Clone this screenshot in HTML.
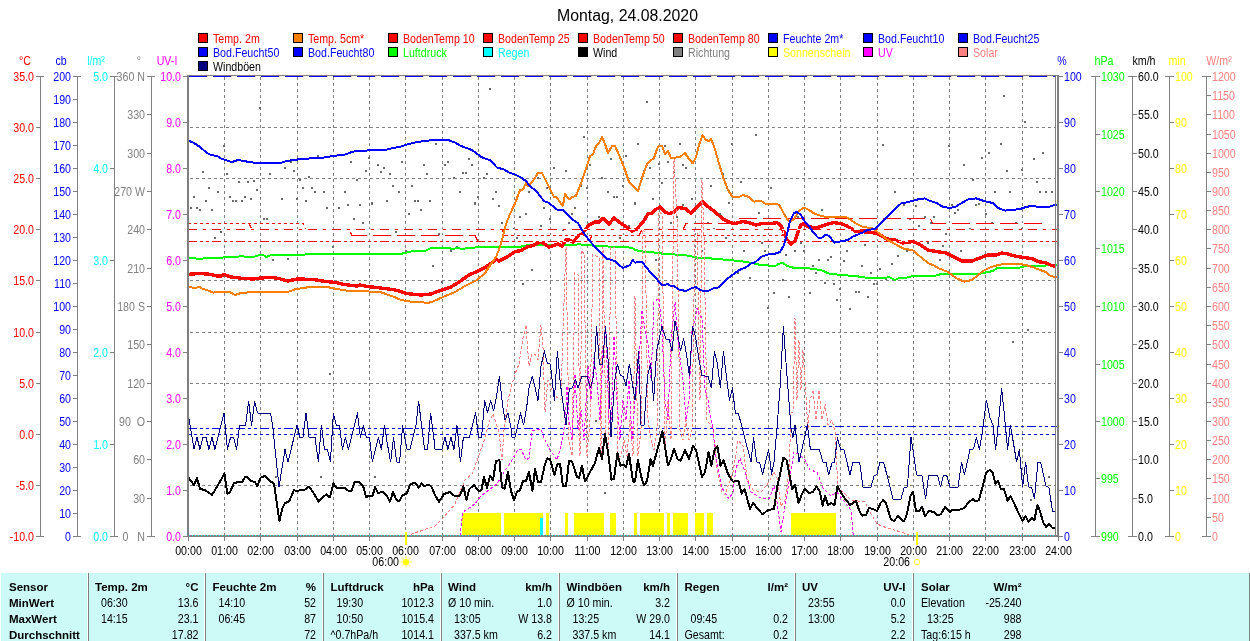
<!DOCTYPE html>
<html><head><meta charset="utf-8"><title>Montag, 24.08.2020</title>
<style>html,body{margin:0;padding:0;background:#fff;overflow:hidden}body{width:1250px;height:641px;position:relative;font-family:"Liberation Sans",sans-serif}</style>
</head><body>
<svg width="1250" height="641" viewBox="0 0 1250 641" font-family="Liberation Sans, sans-serif" shape-rendering="crispEdges" style="position:absolute;left:0;top:0;will-change:transform;opacity:0.999">
<rect width="1250" height="641" fill="#fff"/>
<defs><clipPath id="pc"><rect x="188" y="76" width="869" height="462"/></clipPath></defs>
<text x="627.5" y="21" font-size="16" text-anchor="middle" fill="#000" textLength="141" lengthAdjust="spacingAndGlyphs">Montag, 24.08.2020</text>
<rect x="198" y="33" width="10" height="10" fill="#000"/><rect x="199" y="34" width="8" height="8" fill="#ff0000"/>
<text transform="translate(213.0,42.5) scale(0.82,1)" fill="#ff0000" font-size="13" text-anchor="start">Temp. 2m</text>
<rect x="293" y="33" width="10" height="10" fill="#000"/><rect x="294" y="34" width="8" height="8" fill="#ff8000"/>
<text transform="translate(308.0,42.5) scale(0.82,1)" fill="#ff0000" font-size="13" text-anchor="start">Temp. 5cm*</text>
<rect x="388" y="33" width="10" height="10" fill="#000"/><rect x="389" y="34" width="8" height="8" fill="#ff0000"/>
<text transform="translate(403.0,42.5) scale(0.82,1)" fill="#ff0000" font-size="13" text-anchor="start">BodenTemp 10</text>
<rect x="483" y="33" width="10" height="10" fill="#000"/><rect x="484" y="34" width="8" height="8" fill="#ff0000"/>
<text transform="translate(498.0,42.5) scale(0.82,1)" fill="#ff0000" font-size="13" text-anchor="start">BodenTemp 25</text>
<rect x="578" y="33" width="10" height="10" fill="#000"/><rect x="579" y="34" width="8" height="8" fill="#ff0000"/>
<text transform="translate(593.0,42.5) scale(0.82,1)" fill="#ff0000" font-size="13" text-anchor="start">BodenTemp 50</text>
<rect x="673" y="33" width="10" height="10" fill="#000"/><rect x="674" y="34" width="8" height="8" fill="#ff0000"/>
<text transform="translate(688.0,42.5) scale(0.82,1)" fill="#ff0000" font-size="13" text-anchor="start">BodenTemp 80</text>
<rect x="768" y="33" width="10" height="10" fill="#000"/><rect x="769" y="34" width="8" height="8" fill="#0000ff"/>
<text transform="translate(783.0,42.5) scale(0.82,1)" fill="#0000ff" font-size="13" text-anchor="start">Feuchte 2m*</text>
<rect x="863" y="33" width="10" height="10" fill="#000"/><rect x="864" y="34" width="8" height="8" fill="#0000ff"/>
<text transform="translate(878.0,42.5) scale(0.82,1)" fill="#0000ff" font-size="13" text-anchor="start">Bod.Feucht10</text>
<rect x="958" y="33" width="10" height="10" fill="#000"/><rect x="959" y="34" width="8" height="8" fill="#0000ff"/>
<text transform="translate(973.0,42.5) scale(0.82,1)" fill="#0000ff" font-size="13" text-anchor="start">Bod.Feucht25</text>
<rect x="198" y="47" width="10" height="10" fill="#000"/><rect x="199" y="48" width="8" height="8" fill="#0000ff"/>
<text transform="translate(213.0,56.5) scale(0.82,1)" fill="#0000ff" font-size="13" text-anchor="start">Bod.Feucht50</text>
<rect x="293" y="47" width="10" height="10" fill="#000"/><rect x="294" y="48" width="8" height="8" fill="#0000ff"/>
<text transform="translate(308.0,56.5) scale(0.82,1)" fill="#0000ff" font-size="13" text-anchor="start">Bod.Feucht80</text>
<rect x="388" y="47" width="10" height="10" fill="#000"/><rect x="389" y="48" width="8" height="8" fill="#00ff00"/>
<text transform="translate(403.0,56.5) scale(0.82,1)" fill="#00ff00" font-size="13" text-anchor="start">Luftdruck</text>
<rect x="483" y="47" width="10" height="10" fill="#000"/><rect x="484" y="48" width="8" height="8" fill="#00ffff"/>
<text transform="translate(498.0,56.5) scale(0.82,1)" fill="#00ffff" font-size="13" text-anchor="start">Regen</text>
<rect x="578" y="47" width="10" height="10" fill="#000"/><rect x="579" y="48" width="8" height="8" fill="#000000"/>
<text transform="translate(593.0,56.5) scale(0.82,1)" fill="#000000" font-size="13" text-anchor="start">Wind</text>
<rect x="673" y="47" width="10" height="10" fill="#000"/><rect x="674" y="48" width="8" height="8" fill="#808080"/>
<text transform="translate(688.0,56.5) scale(0.82,1)" fill="#808080" font-size="13" text-anchor="start">Richtung</text>
<rect x="768" y="47" width="10" height="10" fill="#000"/><rect x="769" y="48" width="8" height="8" fill="#ffff00"/>
<text transform="translate(783.0,56.5) scale(0.82,1)" fill="#ffff00" font-size="13" text-anchor="start">Sonnenschein</text>
<rect x="863" y="47" width="10" height="10" fill="#000"/><rect x="864" y="48" width="8" height="8" fill="#ff00ff"/>
<text transform="translate(878.0,56.5) scale(0.82,1)" fill="#ff00ff" font-size="13" text-anchor="start">UV</text>
<rect x="958" y="47" width="10" height="10" fill="#000"/><rect x="959" y="48" width="8" height="8" fill="#ff8080"/>
<text transform="translate(973.0,56.5) scale(0.82,1)" fill="#ff8080" font-size="13" text-anchor="start">Solar</text>
<rect x="198" y="61" width="10" height="10" fill="#000"/><rect x="199" y="62" width="8" height="8" fill="#000080"/>
<text transform="translate(213.0,70.5) scale(0.82,1)" fill="#000000" font-size="13" text-anchor="start">Windböen</text>
<g stroke="#808080" stroke-width="1" stroke-dasharray="3 3" fill="none">
<path d="M224.5 77V535"/>
<path d="M260.5 77V535"/>
<path d="M297.5 77V535"/>
<path d="M333.5 77V535"/>
<path d="M369.5 77V535"/>
<path d="M405.5 77V535"/>
<path d="M442.5 77V535"/>
<path d="M478.5 77V535"/>
<path d="M514.5 77V535"/>
<path d="M550.5 77V535"/>
<path d="M587.5 77V535"/>
<path d="M623.5 77V535"/>
<path d="M659.5 77V535"/>
<path d="M695.5 77V535"/>
<path d="M732.5 77V535"/>
<path d="M768.5 77V535"/>
<path d="M804.5 77V535"/>
<path d="M840.5 77V535"/>
<path d="M877.5 77V535"/>
<path d="M913.5 77V535"/>
<path d="M949.5 77V535"/>
<path d="M985.5 77V535"/>
<path d="M1022.5 77V535"/>
<path d="M190 127.5H1055"/>
<path d="M190 178.5H1055"/>
<path d="M190 229.5H1055"/>
<path d="M190 280.5H1055"/>
<path d="M190 332.5H1055"/>
<path d="M190 383.5H1055"/>
<path d="M190 434.5H1055"/>
<path d="M190 485.5H1055"/>
</g>
<g clip-path="url(#pc)"><rect x="462" y="513" width="39" height="23" fill="#ffff00"/>
<rect x="504" y="513" width="39" height="23" fill="#ffff00"/>
<rect x="546" y="513" width="3" height="23" fill="#ffff00"/>
<rect x="565" y="513" width="3" height="23" fill="#ffff00"/>
<rect x="574" y="513" width="30" height="23" fill="#ffff00"/>
<rect x="610" y="513" width="6" height="23" fill="#ffff00"/>
<rect x="634" y="513" width="3" height="23" fill="#ffff00"/>
<rect x="640" y="513" width="24" height="23" fill="#ffff00"/>
<rect x="667" y="513" width="3" height="23" fill="#ffff00"/>
<rect x="673" y="513" width="15" height="23" fill="#ffff00"/>
<rect x="695" y="513" width="9" height="23" fill="#ffff00"/>
<rect x="707" y="513" width="6" height="23" fill="#ffff00"/>
<rect x="791" y="513" width="45" height="23" fill="#ffff00"/>
<rect x="540" y="518" width="3" height="18" fill="#00ffff"/>
<g fill="#6a6a6a"><rect x="193" y="196" width="2" height="2"/><rect x="202" y="171" width="2" height="2"/><rect x="205" y="200" width="2" height="2"/><rect x="208" y="187" width="2" height="2"/><rect x="217" y="191" width="2" height="2"/><rect x="223" y="145" width="2" height="2"/><rect x="226" y="173" width="2" height="2"/><rect x="229" y="196" width="2" height="2"/><rect x="232" y="200" width="2" height="2"/><rect x="235" y="200" width="2" height="2"/><rect x="238" y="181" width="2" height="2"/><rect x="241" y="200" width="2" height="2"/><rect x="244" y="196" width="2" height="2"/><rect x="247" y="181" width="2" height="2"/><rect x="250" y="198" width="2" height="2"/><rect x="253" y="180" width="2" height="2"/><rect x="256" y="189" width="2" height="2"/><rect x="259" y="107" width="2" height="2"/><rect x="269" y="173" width="2" height="2"/><rect x="281" y="198" width="2" height="2"/><rect x="284" y="167" width="2" height="2"/><rect x="290" y="161" width="2" height="2"/><rect x="293" y="170" width="2" height="2"/><rect x="296" y="198" width="2" height="2"/><rect x="299" y="179" width="2" height="2"/><rect x="302" y="187" width="2" height="2"/><rect x="305" y="200" width="2" height="2"/><rect x="308" y="176" width="2" height="2"/><rect x="311" y="187" width="2" height="2"/><rect x="314" y="191" width="2" height="2"/><rect x="317" y="155" width="2" height="2"/><rect x="323" y="191" width="2" height="2"/><rect x="344" y="191" width="2" height="2"/><rect x="350" y="161" width="2" height="2"/><rect x="356" y="179" width="2" height="2"/><rect x="365" y="170" width="2" height="2"/><rect x="368" y="157" width="2" height="2"/><rect x="371" y="202" width="2" height="2"/><rect x="377" y="164" width="2" height="2"/><rect x="380" y="171" width="2" height="2"/><rect x="383" y="167" width="2" height="2"/><rect x="386" y="200" width="2" height="2"/><rect x="389" y="173" width="2" height="2"/><rect x="392" y="185" width="2" height="2"/><rect x="398" y="191" width="2" height="2"/><rect x="401" y="161" width="2" height="2"/><rect x="411" y="185" width="2" height="2"/><rect x="414" y="200" width="2" height="2"/><rect x="417" y="200" width="2" height="2"/><rect x="423" y="164" width="2" height="2"/><rect x="426" y="173" width="2" height="2"/><rect x="429" y="200" width="2" height="2"/><rect x="435" y="143" width="2" height="2"/><rect x="444" y="164" width="2" height="2"/><rect x="447" y="161" width="2" height="2"/><rect x="453" y="177" width="2" height="2"/><rect x="459" y="191" width="2" height="2"/><rect x="462" y="172" width="2" height="2"/><rect x="465" y="172" width="2" height="2"/><rect x="468" y="158" width="2" height="2"/><rect x="471" y="164" width="2" height="2"/><rect x="474" y="202" width="2" height="2"/><rect x="477" y="196" width="2" height="2"/><rect x="483" y="177" width="2" height="2"/><rect x="486" y="173" width="2" height="2"/><rect x="489" y="88" width="2" height="2"/><rect x="492" y="198" width="2" height="2"/><rect x="495" y="191" width="2" height="2"/><rect x="528" y="191" width="2" height="2"/><rect x="537" y="177" width="2" height="2"/><rect x="546" y="187" width="2" height="2"/><rect x="553" y="167" width="2" height="2"/><rect x="565" y="170" width="2" height="2"/><rect x="580" y="185" width="2" height="2"/><rect x="583" y="136" width="2" height="2"/><rect x="586" y="187" width="2" height="2"/><rect x="589" y="164" width="2" height="2"/><rect x="601" y="177" width="2" height="2"/><rect x="607" y="191" width="2" height="2"/><rect x="610" y="158" width="2" height="2"/><rect x="613" y="196" width="2" height="2"/><rect x="616" y="196" width="2" height="2"/><rect x="622" y="185" width="2" height="2"/><rect x="625" y="155" width="2" height="2"/><rect x="634" y="202" width="2" height="2"/><rect x="637" y="143" width="2" height="2"/><rect x="643" y="170" width="2" height="2"/><rect x="646" y="101" width="2" height="2"/><rect x="649" y="167" width="2" height="2"/><rect x="652" y="198" width="2" height="2"/><rect x="658" y="163" width="2" height="2"/><rect x="661" y="182" width="2" height="2"/><rect x="664" y="145" width="2" height="2"/><rect x="667" y="161" width="2" height="2"/><rect x="673" y="171" width="2" height="2"/><rect x="679" y="143" width="2" height="2"/><rect x="682" y="164" width="2" height="2"/><rect x="685" y="167" width="2" height="2"/><rect x="691" y="198" width="2" height="2"/><rect x="710" y="185" width="2" height="2"/><rect x="722" y="173" width="2" height="2"/><rect x="728" y="202" width="2" height="2"/><rect x="731" y="143" width="2" height="2"/><rect x="740" y="181" width="2" height="2"/><rect x="755" y="134" width="2" height="2"/><rect x="770" y="187" width="2" height="2"/><rect x="882" y="144" width="2" height="2"/><rect x="894" y="191" width="2" height="2"/><rect x="948" y="145" width="2" height="2"/><rect x="963" y="164" width="2" height="2"/><rect x="972" y="179" width="2" height="2"/><rect x="981" y="157" width="2" height="2"/><rect x="988" y="152" width="2" height="2"/><rect x="994" y="191" width="2" height="2"/><rect x="1000" y="143" width="2" height="2"/><rect x="1003" y="95" width="2" height="2"/><rect x="1006" y="170" width="2" height="2"/><rect x="1009" y="191" width="2" height="2"/><rect x="1021" y="169" width="2" height="2"/><rect x="1024" y="121" width="2" height="2"/><rect x="1033" y="158" width="2" height="2"/><rect x="1036" y="181" width="2" height="2"/><rect x="1039" y="191" width="2" height="2"/><rect x="1042" y="152" width="2" height="2"/><rect x="1045" y="191" width="2" height="2"/><rect x="1051" y="191" width="2" height="2"/><rect x="190" y="207" width="2" height="2"/><rect x="196" y="207" width="2" height="2"/><rect x="199" y="209" width="2" height="2"/><rect x="211" y="209" width="2" height="2"/><rect x="214" y="237" width="2" height="2"/><rect x="220" y="231" width="2" height="2"/><rect x="263" y="218" width="2" height="2"/><rect x="266" y="218" width="2" height="2"/><rect x="272" y="259" width="2" height="2"/><rect x="287" y="258" width="2" height="2"/><rect x="326" y="207" width="2" height="2"/><rect x="332" y="246" width="2" height="2"/><rect x="338" y="207" width="2" height="2"/><rect x="347" y="204" width="2" height="2"/><rect x="353" y="218" width="2" height="2"/><rect x="359" y="204" width="2" height="2"/><rect x="362" y="222" width="2" height="2"/><rect x="371" y="203" width="2" height="2"/><rect x="395" y="231" width="2" height="2"/><rect x="405" y="250" width="2" height="2"/><rect x="408" y="213" width="2" height="2"/><rect x="420" y="209" width="2" height="2"/><rect x="432" y="265" width="2" height="2"/><rect x="438" y="233" width="2" height="2"/><rect x="441" y="281" width="2" height="2"/><rect x="450" y="250" width="2" height="2"/><rect x="456" y="246" width="2" height="2"/><rect x="474" y="203" width="2" height="2"/><rect x="480" y="246" width="2" height="2"/><rect x="498" y="205" width="2" height="2"/><rect x="501" y="222" width="2" height="2"/><rect x="513" y="228" width="2" height="2"/><rect x="516" y="237" width="2" height="2"/><rect x="519" y="216" width="2" height="2"/><rect x="522" y="283" width="2" height="2"/><rect x="525" y="213" width="2" height="2"/><rect x="531" y="269" width="2" height="2"/><rect x="540" y="225" width="2" height="2"/><rect x="543" y="207" width="2" height="2"/><rect x="549" y="218" width="2" height="2"/><rect x="562" y="229" width="2" height="2"/><rect x="568" y="222" width="2" height="2"/><rect x="571" y="213" width="2" height="2"/><rect x="574" y="207" width="2" height="2"/><rect x="598" y="216" width="2" height="2"/><rect x="619" y="237" width="2" height="2"/><rect x="628" y="225" width="2" height="2"/><rect x="634" y="203" width="2" height="2"/><rect x="655" y="259" width="2" height="2"/><rect x="670" y="222" width="2" height="2"/><rect x="676" y="216" width="2" height="2"/><rect x="682" y="204" width="2" height="2"/><rect x="701" y="250" width="2" height="2"/><rect x="707" y="222" width="2" height="2"/><rect x="713" y="228" width="2" height="2"/><rect x="719" y="213" width="2" height="2"/><rect x="725" y="237" width="2" height="2"/><rect x="737" y="272" width="2" height="2"/><rect x="743" y="250" width="2" height="2"/><rect x="749" y="277" width="2" height="2"/><rect x="758" y="212" width="2" height="2"/><rect x="761" y="242" width="2" height="2"/><rect x="764" y="250" width="2" height="2"/><rect x="767" y="307" width="2" height="2"/><rect x="773" y="292" width="2" height="2"/><rect x="782" y="279" width="2" height="2"/><rect x="785" y="254" width="2" height="2"/><rect x="788" y="296" width="2" height="2"/><rect x="794" y="250" width="2" height="2"/><rect x="797" y="216" width="2" height="2"/><rect x="800" y="242" width="2" height="2"/><rect x="803" y="250" width="2" height="2"/><rect x="809" y="292" width="2" height="2"/><rect x="812" y="265" width="2" height="2"/><rect x="815" y="272" width="2" height="2"/><rect x="818" y="259" width="2" height="2"/><rect x="821" y="209" width="2" height="2"/><rect x="824" y="282" width="2" height="2"/><rect x="827" y="259" width="2" height="2"/><rect x="830" y="256" width="2" height="2"/><rect x="833" y="283" width="2" height="2"/><rect x="836" y="299" width="2" height="2"/><rect x="839" y="288" width="2" height="2"/><rect x="843" y="260" width="2" height="2"/><rect x="846" y="250" width="2" height="2"/><rect x="849" y="308" width="2" height="2"/><rect x="855" y="291" width="2" height="2"/><rect x="858" y="291" width="2" height="2"/><rect x="861" y="265" width="2" height="2"/><rect x="864" y="244" width="2" height="2"/><rect x="867" y="296" width="2" height="2"/><rect x="870" y="272" width="2" height="2"/><rect x="873" y="283" width="2" height="2"/><rect x="876" y="283" width="2" height="2"/><rect x="879" y="268" width="2" height="2"/><rect x="885" y="278" width="2" height="2"/><rect x="891" y="263" width="2" height="2"/><rect x="897" y="255" width="2" height="2"/><rect x="903" y="204" width="2" height="2"/><rect x="906" y="250" width="2" height="2"/><rect x="909" y="218" width="2" height="2"/><rect x="915" y="205" width="2" height="2"/><rect x="918" y="225" width="2" height="2"/><rect x="930" y="222" width="2" height="2"/><rect x="924" y="216" width="2" height="2"/><rect x="927" y="242" width="2" height="2"/><rect x="933" y="216" width="2" height="2"/><rect x="939" y="259" width="2" height="2"/><rect x="942" y="245" width="2" height="2"/><rect x="945" y="233" width="2" height="2"/><rect x="951" y="204" width="2" height="2"/><rect x="954" y="212" width="2" height="2"/><rect x="957" y="209" width="2" height="2"/><rect x="960" y="250" width="2" height="2"/><rect x="969" y="228" width="2" height="2"/><rect x="975" y="204" width="2" height="2"/><rect x="978" y="203" width="2" height="2"/><rect x="985" y="213" width="2" height="2"/><rect x="991" y="222" width="2" height="2"/><rect x="997" y="254" width="2" height="2"/><rect x="1015" y="222" width="2" height="2"/><rect x="1021" y="228" width="2" height="2"/><rect x="1027" y="329" width="2" height="2"/><rect x="329" y="373" width="2" height="2"/><rect x="275" y="476" width="2" height="2"/><rect x="320" y="476" width="2" height="2"/><rect x="374" y="476" width="2" height="2"/><rect x="704" y="327" width="2" height="2"/><rect x="888" y="476" width="2" height="2"/><rect x="1048" y="476" width="2" height="2"/><rect x="1030" y="499" width="2" height="2"/><rect x="1012" y="341" width="2" height="2"/><rect x="577" y="420" width="2" height="2"/><rect x="595" y="420" width="2" height="2"/><rect x="604" y="492" width="2" height="2"/></g>
<polyline points="188,258 197,258.6 209,258.4 225,257.4 239,256.6 242,255.6 245,257 255,256.6 260,254.6 264,255.6 266.6,257 271,255 289,254.6 305,254.6 309,253.6 402,253.6 407,252.6 413,251 425,251 430,248.4 435,247.6 450,247.6 452,249.6 457,247.6 463,249.6 467,247.6 519,247 529,245 575,245 579,244 583,245 601,246 615,247 632,247.6 635,250 643,251.6 655,252.6 665,254 677,254.6 685,255 697,257.6 713,258.6 729,260 747,262 759,264.6 769,265.6 776,265.6 779,263.6 783,263 787,266 793,267.6 809,268.4 821,270 829,273.6 841,275 855,276 866,277.6 885,278 889,277 895,280 899,278 907,277.6 913,276 936,275.6 940,274.4 956,274.4 960,273.6 980,273.6 988,272 993,271 997,268 1020,267.6 1026,266 1046,265.6 1050,264.6 1057,264.6" fill="none" stroke="#00ff00" stroke-width="2" stroke-linejoin="round"/>
<polyline points="188,274.4 199,273.4 211,274.4 217,276 221,276 224,274.4 231,277 243,278.4 254,279 260,278 271,277.4 279,278.6 288,281 297,279 313,279.4 325,281.4 335,282.4 345,284.6 357,286 360,285 367,286.4 377,287.6 393,289.6 401,291.6 407,293.6 421,295 431,294 435,292.5 443,289.6 451,287 459,282 469,275 477,271.6 485,267.6 493,262 496,259 499,261 507,257 515,251.6 521,250.6 527,247 533,245.6 539,242.4 543,243 549,247 555,245 558,244 562,246 566,240 569,240 573,242 578,236 583,233 589,225 595,222 599,222 603,218.4 609,224 614,218 619,222 625,226 632,231 637,229 643,222 648,214 652,213 655,210 660,207 665,212 669,213.6 674,212 678,207.6 685,208.5 691,213 697,207 700,203.5 703,202 706,205 715,212 723,219 730,222.6 735,223.6 743,221.6 749,222.6 756,225 762,223.6 771,223.6 777,222.6 781,226 784,232 787,240 791,244 795,241 798,232 801,225 803,224 809,227 817,227.6 825,225 833,222.6 841,223.6 847,226 855,231 861,231.6 867,232 875,233 880,235 887,239 895,240 903,243 913,241.5 919,244 928,250 937,251.6 946,253 954,257 962,261 972,261 980,258 988,255 996,255 1002,253 1008,254 1016,256.4 1024,257.6 1032,258.6 1038,261.6 1046,263 1052,265.6 1056,266.4" fill="none" stroke="#ff0000" stroke-width="3.4" stroke-linejoin="round"/>
<polyline points="188,223.5 249,223.5 252,229.5 349,229.5 352,235.5 475,235.5 478,241.5 589,241.5 592,235.5 639,235.5 642,229.5 683,229.5 686,223.5 733,223.5 736,218.5 930,218.5 933,223.5 1047,223.5" fill="none" stroke="#ffffff" stroke-width="1"/>
<polyline points="188,223.5 249,223.5 252,229.5 349,229.5 352,235.5 475,235.5 478,241.5 589,241.5 592,235.5 639,235.5 642,229.5 683,229.5 686,223.5 733,223.5 736,218.5 930,218.5 933,223.5 1047,223.5" fill="none" stroke="#ff0000" stroke-width="1" stroke-linejoin="round" stroke-dasharray="18 6"/>
<polyline points="188,223.5 303,223.5 306,229.5 502,229.5 505,235.5 782,235.5 785,229.5 1057,229.5" fill="none" stroke="#ffffff" stroke-width="1"/>
<polyline points="188,223.5 303,223.5 306,229.5 502,229.5 505,235.5 782,235.5 785,229.5 1057,229.5" fill="none" stroke="#ff0000" stroke-width="1" stroke-linejoin="round" stroke-dasharray="3 3"/>
<polyline points="188,229.5 1057,229.5" fill="none" stroke="#ffffff" stroke-width="1"/>
<polyline points="188,229.5 1057,229.5" fill="none" stroke="#ff0000" stroke-width="1" stroke-linejoin="round" stroke-dasharray="9 6 3 6"/>
<polyline points="188,241.5 1057,241.5" fill="none" stroke="#ffffff" stroke-width="1"/>
<polyline points="188,241.5 1057,241.5" fill="none" stroke="#ff0000" stroke-width="1" stroke-linejoin="round" stroke-dasharray="9 3 3 3 3 3"/>
<polyline points="189,76.5 1055,76.5" fill="none" stroke="#0000ff" stroke-width="1" stroke-linejoin="round" stroke-dasharray="18 6"/>
<polyline points="188,428.5 799,428.5 802,426.5 1057,426.5" fill="none" stroke="#ffffff" stroke-width="1"/>
<polyline points="188,428.5 799,428.5 802,426.5 1057,426.5" fill="none" stroke="#0000ff" stroke-width="1" stroke-linejoin="round" stroke-dasharray="9 3 3 3 3 3"/>
<polyline points="188,434.5 1057,434.5" fill="none" stroke="#ffffff" stroke-width="1"/>
<polyline points="188,434.5 1057,434.5" fill="none" stroke="#0000ff" stroke-width="1" stroke-linejoin="round" stroke-dasharray="3 3"/>
<polyline points="406,536 435,526 443,518 455,504 465,480 472,474 478,458 485,438 489,422 493,414 499,432 502,460 504,430 508,400 512,384 515,374 519,364 523,338 526,325 529,366 532,354 535,354 538,360 541,325 543,348 545,412 548,380 551,388 555,396 561,400 563,330 566,247 569,440 572,456 575,272 578,275 580,456 582,250 584,255 587,456 590,420 593,254 596,256 599,258 601,456 603,247 606,440 608,450 611,247 615,248 618,456 621,456 624,440 627,456 630,420 633,456 635,296 638,456 641,430 643,230 645,232 648,420 651,440 654,450 657,430 659,212 662,214 665,450 668,400 671,440 674,159 677,216 680,430 683,440 686,420 689,440 692,430 695,230 697,232 700,400 702,180 704,236 707,420 710,425 713,430 715,445 717,468 722,492 725,495 733,472 738,440 743,446 747,478 753,490 761,492 769,482 774,472 777,478 781,506 785,500 789,472 791,412 793,412 795,318 797,400 799,340 801,390 803,350 805,380 808,430 810,400 813,390 816,420 819,390 822,420 825,404 828,425 832,420 835,432 836,452 838,488 843,492 851,500 865,502 870,512 877,524 887,528 901,532 909,535 916,536" fill="none" stroke="#ff8080" stroke-width="1" stroke-linejoin="round" stroke-dasharray="3 2"/>
<polyline points="460,536 460,533 463,512 475,504 481,496 489,490 497,484 504,472 511,462 517,451 521,449 526,460 529,458 532,431 541,429 544,438 550,450 557,460 561,446 565,424 567,386 569,420 572,440 575,374 578,430 581,410 584,440 588,366 591,400 594,358 597,380 600,420 603,350 606,332 609,420 611,430 614,336 617,400 620,440 623,400 626,420 629,380 632,440 635,400 638,380 642,310 645,330 648,345 651,380 654,302 659,298 662,330 665,400 668,420 671,340 675,302 678,340 680,358 683,380 686,420 689,400 692,330 695,320 697,308 700,315 702,318 705,390 708,400 711,420 713,428 715,452 719,472 722,488 729,499 733,492 736,468 740,458 745,472 751,492 761,498 769,499 774,486 777,502 781,532 785,506 789,482 794,452 799,454 805,460 810,470 817,472 823,488 831,496 837,492 843,500 851,510 853,533 853,536" fill="none" stroke="#ff00ff" stroke-width="1" stroke-linejoin="round" stroke-dasharray="3 2"/>
<polyline points="188,287 196,288 199,286.6 202,288.6 207,290 213,292.6 220,291.6 229,291.6 235,295 241,293 253,292 289,291.6 294,289.6 303,288 313,286.6 325,286.6 337,289 347,290.6 365,290.6 369,291.6 380,292 387,294.4 393,296.4 401,300 411,301.6 421,302 427,303 432,302 435,300.6 443,297 455,292 465,286 477,280 485,273 491,264 496,257 500,247 503,236 506,224 510,214 515,203.5 520,190 523,189.6 526,183 528,186 533,181 538,173 542,173 547,183 554,197 557,197.6 561,204 562.5,206 564,201 565,194 569,199.6 572,197 576,196 583,178 590,156 593,154.6 596,146 599,143 602,137 605,144 608,153 612,146 615,146 619,155 624,167 629,182 638,191 643,175 647,164 650,161 654,158 657,149 659,145.6 662,145.6 665,154.6 668,151 671,158 674,158.4 677,157 680,157 685,153 689,159 692.6,163.4 696,157 699,145 702.6,135 706,140 709,141 711,139 714,146 718,160 723,177 728,190 733,197.4 738,197.4 743,195 749,197 754,201.6 761,201 765,203.5 779,204.6 783,212 787,219 790,222 794,219 799,211 804,207.6 809,210 815,214 823,216.4 833,217.4 847,217.4 855,223 863,227 873,228.4 880,234 887,239.6 895,244 903,248.4 913,250.4 919,255.6 928,263 935,266 938,268 948,272 956,278 964,281.6 972,280 978,275 983,271 990,267.6 998,265 1006,263.6 1018,263.6 1026,265 1034,267.6 1040,270 1046,272 1050,275.6 1055,277 1057,277" fill="none" stroke="#ff8000" stroke-width="2" stroke-linejoin="round"/>
<polyline points="188,140.4 194,143 200,147 207,153 211,155 217,156 221,158.4 225,160 232,162 238,160 243,160.8 249,162 255,162.8 281,162.8 287,161 297,159.6 303,158.6 315,158.4 325,157.4 333,156 345,154.6 353,151.6 365,150.6 387,149.6 393,148 401,146.6 407,144.4 417,142 425,141 434,140 448,140 455,142.6 461,146 472,150 478,154.6 483,158 490,160 497,167.6 504,169.4 509,172.6 515,174.4 521,177.6 526,181 530,186.4 536,190.6 540,196 544,201 549,203 557,209.6 563,210 568,215 573,220 578,223 583,232 589,240 595,247 601,253 606,258.4 615,261 619,265 623,268 630,265 632.6,260 635,262.6 642,261.6 650,272 656,278 662,285.6 668,284 671,286.4 674,286 679,289.6 686,291 691,288.4 696,287 701,290.4 708,291 713,288.4 718,287.6 727,279 735,273 741,269 745,268 751,263.6 755,262.4 761,257 767,254.6 774,254 780,252 784,245 787,234 790,221 794,213 797,212 801,215 805,222 809,226 813,232 818,237.6 822,237.6 825,235 829,235.6 834,242.6 843,241 848,240 852,237 859,234 864,232 867,230 875,229 881,223 887,217 893,211 901,203.5 908,202 918,199.4 925,198.4 930,201 937,203 942,206.4 949,208 955,207 960,204 968,199.4 976,198.4 982,200.4 988,202 993,203 998,208 1005,210.6 1012,210 1020,209 1026,207 1033,205.6 1038,207 1048,207 1055,205 1057,205" fill="none" stroke="#0000ff" stroke-width="2" stroke-linejoin="round"/>
<polyline points="188,413 194,449.4 197,437.4 200,449.4 203,437.4 206,437.4 209,449.4 212,437.4 215,449.4 218,437.4 221,425.4 224,413 227.4,449.4 230.6,437.4 233.6,437.4 236.6,449.4 239.6,425.4 245.6,425.4 248.6,401 251.6,425.4 254.6,401 257.6,413 270.6,413 272.6,425.4 279,487 285,449.4 288,462 294,437.4 297,425.4 300,437.4 303,437.4 306,413 309,437.4 315,437.4 318.4,462 321.4,425.4 324.4,449.4 327.4,449.4 330.4,462 333.4,413 336.4,425.4 339.4,425.4 342.4,449.4 345.4,437.4 348.4,449.4 351.4,437.4 354.4,425.4 357.4,413 360.4,437.4 363.4,425.4 366.4,437.4 369.4,437.4 372.4,462 375.4,449.4 378.4,437.4 381.4,449.4 384.4,425.4 387.4,444 390.6,462 393.6,437.4 396.6,462 399.6,462 402.6,425.4 407,449.4 410,449.4 413,437.4 416,425.4 418.6,401 421.6,425.4 424.6,449.4 427.6,449.4 430.6,413 434.6,444 435,449.4 442,449.4 445,437.4 448,449.4 451,437.4 454,449.4 457,425.4 460.4,462 463.4,437.4 469.4,437.4 472.6,425 475.6,413 478.6,437.4 481.6,437.4 484.6,400.4 487.6,413 490.6,400.4 493.6,410.6 496.6,396 499.4,376 502.4,404 505,420 508,413 511,428 512,437.4 515,437.4 520.6,413 523.6,425 526.6,408 529,388 532.4,376 538,400.4 541,366 544.4,351 547.4,363.4 550.4,364 554.4,400.4 557.4,351 560.4,384 566,425 569.4,388 572.4,388 575.4,379 578,388 582,376 587,376 590.6,388 593.6,375.6 596.6,326.4 599.4,364 602.6,364 605.4,326.4 608.4,364 611,437.4 614.6,382 617.4,364 620.4,375.6 623.4,376.4 626,386 629.4,364 635,400.4 638.6,351 641,425 644,425 647.6,375.6 650.6,364 653.6,400.4 656.6,351 662,326.4 666,339 669,339 672,351 675,321 678,336 680.6,351 683.6,339 685,346 687,358 689.4,376 692.6,326.4 695.4,336 699,360 702,375.6 705,376 708,376.4 711.4,388 714.4,351.4 717.4,364 720.4,388 723.4,351.4 726.4,376 729.4,400.4 732.4,388 735.4,413 738.6,414 751,462 753.6,437.4 756.6,462 759.6,462 762.6,474.4 768.6,449.6 771.6,474.4 774,462 777,428 780,388 783.4,326.4 787,376 791,428 793,437.4 795,425 799,462 807.4,425 810.4,449.6 819.4,449.6 823,462 826,462 828.6,475 832,463 834.6,462 837.4,437.4 840.6,449.6 844,449.6 850,475 853,462 859.6,462 863,487 871,487 874,476 877,474.4 880,462 883.6,462 893,499 901,499 904,488 907.4,487 911,437.4 913,449.6 916.6,475 922,475.6 925.6,499 928.6,475 937.6,475 940.6,487 943.6,475 946.6,475 950,487 958,487 961.6,462 964.4,475 970,449.6 973.4,449 976.4,437.4 979.4,449.6 982.4,432 986.4,400.4 990,418 993,425 995.6,449.6 998.6,422 1001.6,388 1004.4,415 1007.6,449.6 1010.4,425 1013.6,444 1016.6,462 1019.4,449.6 1022.6,487 1025.6,462 1028.6,487 1031.6,487 1034.4,499 1038,462 1040.6,462 1046,486 1049,487.6 1052.4,511 1055.6,511.4" fill="none" stroke="#000080" stroke-width="1" stroke-linejoin="round"/>
<polyline points="188,477 194,485 197,478 200,489 205,490 212,495 218,485 222,478 224.4,473 227.4,494 230,492 234,483 239,482 242,482.4 245,477 248,477.6 251,481 255,482 257.4,486.4 260.6,477.6 265,476 270,481 274,483.6 276.6,502 279.4,521 282.4,508 285,503 289,501.6 294,490 297,491.6 301,489.6 305,489.6 309,486.4 314,493.6 318.6,501.6 323,497 326.6,494.4 330,497.6 333.4,483 336,487.6 345,488 348,490.6 351.4,490.6 354.6,482.4 359,482 363,485.6 366,497 369,496 372.6,496 375,487 378,493 383,491.6 387,496 390,501.6 393,492 396,499 399,501.6 402.6,495 406.6,494 410,485 413,483 416,483.6 418.6,488 421.6,483 424,486.4 429,484.4 432,487.6 435,495 439,502 444,494 450,492 455,496.4 460,495.6 463.4,486.4 466.4,500 469.4,489 474,485 479,491.6 481.4,490 484,477 487,488 490,476 493,480 496,461 499.4,460 502,487 504.6,489 508,472 511,491 514,500 517,492 520,490 523,481 526,481 529,472 532.4,491 535,469 538,482 541,482 544.6,466 547,458.4 550,459 554.4,475 557.4,464 560,463.6 563,486.4 566,486.4 569,461 572,461.6 577,477 579,478 582,465.6 585,481.6 589,474 595,463 599,448 602,459 605,434 608,452 611.4,479.6 614,479 617.4,453 620.4,466 623,464.4 626,467 629,454 633,481.6 635,481.6 638,460 641,476 644,485.6 647,481 650.6,459 653,466 662.4,431 668,465.6 671,459 674,448.4 677.4,459 680.6,461 685,450 689,459 693,446 696,450 702,477 705,472 708.6,452 711.4,466 714.6,450 717.4,446 720.6,466 723.4,460 728,474 733,481.6 738.6,481 741.6,493.6 744.6,489 750,509 753,503 758,509 762.6,514.4 768,510 774,509 777.4,486 780.6,472 783.4,457.6 786.6,460 789,472 792,489 795,485 798.6,503 802,494 804.6,489 809,493 813,492 816.6,486.4 820,492 822.6,505.6 825,496 828,505 831,503 834.6,505 837.4,486.4 843,496 850,505 856,501 859,510 862,515.6 866,515 869,508 873,509 877,511 880.6,503 883.4,500 886,503 891,519.6 894,521 898,516 904,521.6 907,514 910.4,496 913,492 916,511 919,511 922,507 925,516 929,511 934,512 938,515.6 941,514 945,507 949.6,512 952,510 958,510.4 964,508 969,502 973,499 976,501.6 979,500 983,485 986,473 989.6,470 992.4,472 995.6,484 998,481 1001,489 1004,489 1007.6,501 1010.4,496 1014,503 1018,512 1022.4,521 1025.6,516 1028.6,522 1031.6,518 1034.4,520 1037.4,505 1040,511 1043,522 1046,527 1049,524 1052,527.6 1055.6,527.6" fill="none" stroke="#000000" stroke-width="2" stroke-linejoin="round"/></g>
<rect x="187" y="75" width="872" height="1" fill="#808080"/>
<rect x="187" y="75" width="2" height="462" fill="#808080"/>
<rect x="1055" y="75" width="1" height="462" fill="#808080"/>
<rect x="1057" y="75" width="2" height="462" fill="#808080"/>
<rect x="187" y="535" width="872" height="2" fill="#808080"/>
<path d="M189 535.5H1055" stroke="#00ffff" stroke-width="1" stroke-dasharray="1 2" fill="none"/>
<rect x="188" y="537" width="1" height="4" fill="#808080"/>
<text transform="translate(188.5,555.0) scale(0.82,1)" fill="#000" font-size="13" text-anchor="middle">00:00</text>
<rect x="224" y="537" width="1" height="4" fill="#808080"/>
<text transform="translate(224.5,555.0) scale(0.82,1)" fill="#000" font-size="13" text-anchor="middle">01:00</text>
<rect x="260" y="537" width="1" height="4" fill="#808080"/>
<text transform="translate(260.5,555.0) scale(0.82,1)" fill="#000" font-size="13" text-anchor="middle">02:00</text>
<rect x="297" y="537" width="1" height="4" fill="#808080"/>
<text transform="translate(297.5,555.0) scale(0.82,1)" fill="#000" font-size="13" text-anchor="middle">03:00</text>
<rect x="333" y="537" width="1" height="4" fill="#808080"/>
<text transform="translate(333.5,555.0) scale(0.82,1)" fill="#000" font-size="13" text-anchor="middle">04:00</text>
<rect x="369" y="537" width="1" height="4" fill="#808080"/>
<text transform="translate(369.5,555.0) scale(0.82,1)" fill="#000" font-size="13" text-anchor="middle">05:00</text>
<rect x="405" y="537" width="1" height="4" fill="#808080"/>
<text transform="translate(405.5,555.0) scale(0.82,1)" fill="#000" font-size="13" text-anchor="middle">06:00</text>
<rect x="442" y="537" width="1" height="4" fill="#808080"/>
<text transform="translate(442.5,555.0) scale(0.82,1)" fill="#000" font-size="13" text-anchor="middle">07:00</text>
<rect x="478" y="537" width="1" height="4" fill="#808080"/>
<text transform="translate(478.5,555.0) scale(0.82,1)" fill="#000" font-size="13" text-anchor="middle">08:00</text>
<rect x="514" y="537" width="1" height="4" fill="#808080"/>
<text transform="translate(514.5,555.0) scale(0.82,1)" fill="#000" font-size="13" text-anchor="middle">09:00</text>
<rect x="550" y="537" width="1" height="4" fill="#808080"/>
<text transform="translate(550.5,555.0) scale(0.82,1)" fill="#000" font-size="13" text-anchor="middle">10:00</text>
<rect x="587" y="537" width="1" height="4" fill="#808080"/>
<text transform="translate(587.5,555.0) scale(0.82,1)" fill="#000" font-size="13" text-anchor="middle">11:00</text>
<rect x="623" y="537" width="1" height="4" fill="#808080"/>
<text transform="translate(623.5,555.0) scale(0.82,1)" fill="#000" font-size="13" text-anchor="middle">12:00</text>
<rect x="659" y="537" width="1" height="4" fill="#808080"/>
<text transform="translate(659.5,555.0) scale(0.82,1)" fill="#000" font-size="13" text-anchor="middle">13:00</text>
<rect x="695" y="537" width="1" height="4" fill="#808080"/>
<text transform="translate(695.5,555.0) scale(0.82,1)" fill="#000" font-size="13" text-anchor="middle">14:00</text>
<rect x="732" y="537" width="1" height="4" fill="#808080"/>
<text transform="translate(732.5,555.0) scale(0.82,1)" fill="#000" font-size="13" text-anchor="middle">15:00</text>
<rect x="768" y="537" width="1" height="4" fill="#808080"/>
<text transform="translate(768.5,555.0) scale(0.82,1)" fill="#000" font-size="13" text-anchor="middle">16:00</text>
<rect x="804" y="537" width="1" height="4" fill="#808080"/>
<text transform="translate(804.5,555.0) scale(0.82,1)" fill="#000" font-size="13" text-anchor="middle">17:00</text>
<rect x="840" y="537" width="1" height="4" fill="#808080"/>
<text transform="translate(840.5,555.0) scale(0.82,1)" fill="#000" font-size="13" text-anchor="middle">18:00</text>
<rect x="877" y="537" width="1" height="4" fill="#808080"/>
<text transform="translate(877.5,555.0) scale(0.82,1)" fill="#000" font-size="13" text-anchor="middle">19:00</text>
<rect x="913" y="537" width="1" height="4" fill="#808080"/>
<text transform="translate(913.5,555.0) scale(0.82,1)" fill="#000" font-size="13" text-anchor="middle">20:00</text>
<rect x="949" y="537" width="1" height="4" fill="#808080"/>
<text transform="translate(949.5,555.0) scale(0.82,1)" fill="#000" font-size="13" text-anchor="middle">21:00</text>
<rect x="985" y="537" width="1" height="4" fill="#808080"/>
<text transform="translate(985.5,555.0) scale(0.82,1)" fill="#000" font-size="13" text-anchor="middle">22:00</text>
<rect x="1022" y="537" width="1" height="4" fill="#808080"/>
<text transform="translate(1022.5,555.0) scale(0.82,1)" fill="#000" font-size="13" text-anchor="middle">23:00</text>
<rect x="1058" y="537" width="1" height="4" fill="#808080"/>
<text transform="translate(1058.5,555.0) scale(0.82,1)" fill="#000" font-size="13" text-anchor="middle">24:00</text>
<rect x="40" y="76" width="1" height="461" fill="#808080"/>
<rect x="36" y="76" width="8" height="1" fill="#808080"/>
<text transform="translate(34.0,81.0) scale(0.82,1)" fill="#ff0000" font-size="13" text-anchor="end">35.0</text>
<rect x="36" y="127" width="4" height="1" fill="#808080"/>
<text transform="translate(34.0,132.0) scale(0.82,1)" fill="#ff0000" font-size="13" text-anchor="end">30.0</text>
<rect x="36" y="178" width="4" height="1" fill="#808080"/>
<text transform="translate(34.0,183.0) scale(0.82,1)" fill="#ff0000" font-size="13" text-anchor="end">25.0</text>
<rect x="36" y="229" width="4" height="1" fill="#808080"/>
<text transform="translate(34.0,234.0) scale(0.82,1)" fill="#ff0000" font-size="13" text-anchor="end">20.0</text>
<rect x="36" y="280" width="4" height="1" fill="#808080"/>
<text transform="translate(34.0,285.0) scale(0.82,1)" fill="#ff0000" font-size="13" text-anchor="end">15.0</text>
<rect x="36" y="332" width="4" height="1" fill="#808080"/>
<text transform="translate(34.0,337.0) scale(0.82,1)" fill="#ff0000" font-size="13" text-anchor="end">10.0</text>
<rect x="36" y="383" width="4" height="1" fill="#808080"/>
<text transform="translate(34.0,388.0) scale(0.82,1)" fill="#ff0000" font-size="13" text-anchor="end">5.0</text>
<rect x="36" y="434" width="4" height="1" fill="#808080"/>
<text transform="translate(34.0,439.0) scale(0.82,1)" fill="#ff0000" font-size="13" text-anchor="end">0.0</text>
<rect x="36" y="485" width="4" height="1" fill="#808080"/>
<text transform="translate(34.0,490.0) scale(0.82,1)" fill="#ff0000" font-size="13" text-anchor="end">-5.0</text>
<rect x="36" y="536" width="8" height="1" fill="#808080"/>
<text transform="translate(34.0,541.0) scale(0.82,1)" fill="#ff0000" font-size="13" text-anchor="end">-10.0</text>
<text transform="translate(25.0,65.0) scale(0.82,1)" fill="#ff0000" font-size="13" text-anchor="middle">°C</text>
<rect x="77" y="76" width="1" height="461" fill="#808080"/>
<rect x="73" y="76" width="8" height="1" fill="#808080"/>
<text transform="translate(71.0,81.0) scale(0.82,1)" fill="#0000ff" font-size="13" text-anchor="end">200</text>
<rect x="73" y="99" width="4" height="1" fill="#808080"/>
<text transform="translate(71.0,104.0) scale(0.82,1)" fill="#0000ff" font-size="13" text-anchor="end">190</text>
<rect x="73" y="122" width="4" height="1" fill="#808080"/>
<text transform="translate(71.0,127.0) scale(0.82,1)" fill="#0000ff" font-size="13" text-anchor="end">180</text>
<rect x="73" y="145" width="4" height="1" fill="#808080"/>
<text transform="translate(71.0,150.0) scale(0.82,1)" fill="#0000ff" font-size="13" text-anchor="end">170</text>
<rect x="73" y="168" width="4" height="1" fill="#808080"/>
<text transform="translate(71.0,173.0) scale(0.82,1)" fill="#0000ff" font-size="13" text-anchor="end">160</text>
<rect x="73" y="191" width="4" height="1" fill="#808080"/>
<text transform="translate(71.0,196.0) scale(0.82,1)" fill="#0000ff" font-size="13" text-anchor="end">150</text>
<rect x="73" y="214" width="4" height="1" fill="#808080"/>
<text transform="translate(71.0,219.0) scale(0.82,1)" fill="#0000ff" font-size="13" text-anchor="end">140</text>
<rect x="73" y="237" width="4" height="1" fill="#808080"/>
<text transform="translate(71.0,242.0) scale(0.82,1)" fill="#0000ff" font-size="13" text-anchor="end">130</text>
<rect x="73" y="260" width="4" height="1" fill="#808080"/>
<text transform="translate(71.0,265.0) scale(0.82,1)" fill="#0000ff" font-size="13" text-anchor="end">120</text>
<rect x="73" y="283" width="4" height="1" fill="#808080"/>
<text transform="translate(71.0,288.0) scale(0.82,1)" fill="#0000ff" font-size="13" text-anchor="end">110</text>
<rect x="73" y="306" width="4" height="1" fill="#808080"/>
<text transform="translate(71.0,311.0) scale(0.82,1)" fill="#0000ff" font-size="13" text-anchor="end">100</text>
<rect x="73" y="329" width="4" height="1" fill="#808080"/>
<text transform="translate(71.0,334.0) scale(0.82,1)" fill="#0000ff" font-size="13" text-anchor="end">90</text>
<rect x="73" y="352" width="4" height="1" fill="#808080"/>
<text transform="translate(71.0,357.0) scale(0.82,1)" fill="#0000ff" font-size="13" text-anchor="end">80</text>
<rect x="73" y="375" width="4" height="1" fill="#808080"/>
<text transform="translate(71.0,380.0) scale(0.82,1)" fill="#0000ff" font-size="13" text-anchor="end">70</text>
<rect x="73" y="398" width="4" height="1" fill="#808080"/>
<text transform="translate(71.0,403.0) scale(0.82,1)" fill="#0000ff" font-size="13" text-anchor="end">60</text>
<rect x="73" y="421" width="4" height="1" fill="#808080"/>
<text transform="translate(71.0,426.0) scale(0.82,1)" fill="#0000ff" font-size="13" text-anchor="end">50</text>
<rect x="73" y="444" width="4" height="1" fill="#808080"/>
<text transform="translate(71.0,449.0) scale(0.82,1)" fill="#0000ff" font-size="13" text-anchor="end">40</text>
<rect x="73" y="467" width="4" height="1" fill="#808080"/>
<text transform="translate(71.0,472.0) scale(0.82,1)" fill="#0000ff" font-size="13" text-anchor="end">30</text>
<rect x="73" y="490" width="4" height="1" fill="#808080"/>
<text transform="translate(71.0,495.0) scale(0.82,1)" fill="#0000ff" font-size="13" text-anchor="end">20</text>
<rect x="73" y="513" width="4" height="1" fill="#808080"/>
<text transform="translate(71.0,518.0) scale(0.82,1)" fill="#0000ff" font-size="13" text-anchor="end">10</text>
<rect x="73" y="536" width="8" height="1" fill="#808080"/>
<text transform="translate(71.0,541.0) scale(0.82,1)" fill="#0000ff" font-size="13" text-anchor="end">0</text>
<text transform="translate(61.0,65.0) scale(0.82,1)" fill="#0000ff" font-size="13" text-anchor="middle">cb</text>
<rect x="114" y="76" width="1" height="461" fill="#808080"/>
<rect x="110" y="76" width="8" height="1" fill="#808080"/>
<text transform="translate(108.0,81.0) scale(0.82,1)" fill="#00ffff" font-size="13" text-anchor="end">5.0</text>
<rect x="110" y="168" width="4" height="1" fill="#808080"/>
<text transform="translate(108.0,173.0) scale(0.82,1)" fill="#00ffff" font-size="13" text-anchor="end">4.0</text>
<rect x="110" y="260" width="4" height="1" fill="#808080"/>
<text transform="translate(108.0,265.0) scale(0.82,1)" fill="#00ffff" font-size="13" text-anchor="end">3.0</text>
<rect x="110" y="352" width="4" height="1" fill="#808080"/>
<text transform="translate(108.0,357.0) scale(0.82,1)" fill="#00ffff" font-size="13" text-anchor="end">2.0</text>
<rect x="110" y="444" width="4" height="1" fill="#808080"/>
<text transform="translate(108.0,449.0) scale(0.82,1)" fill="#00ffff" font-size="13" text-anchor="end">1.0</text>
<rect x="110" y="536" width="8" height="1" fill="#808080"/>
<text transform="translate(108.0,541.0) scale(0.82,1)" fill="#00ffff" font-size="13" text-anchor="end">0.0</text>
<text transform="translate(96.0,65.0) scale(0.82,1)" fill="#00ffff" font-size="13" text-anchor="middle">l/m²</text>
<rect x="151" y="76" width="1" height="461" fill="#808080"/>
<rect x="147" y="76" width="8" height="1" fill="#808080"/>
<text transform="translate(145.0,81.0) scale(0.82,1)" fill="#808080" font-size="13" text-anchor="end">360 N</text>
<rect x="147" y="114" width="4" height="1" fill="#808080"/>
<text transform="translate(145.0,119.0) scale(0.82,1)" fill="#808080" font-size="13" text-anchor="end">330</text>
<rect x="147" y="153" width="4" height="1" fill="#808080"/>
<text transform="translate(145.0,158.0) scale(0.82,1)" fill="#808080" font-size="13" text-anchor="end">300</text>
<rect x="147" y="191" width="4" height="1" fill="#808080"/>
<text transform="translate(145.0,196.0) scale(0.82,1)" fill="#808080" font-size="13" text-anchor="end">270 W</text>
<rect x="147" y="229" width="4" height="1" fill="#808080"/>
<text transform="translate(145.0,234.0) scale(0.82,1)" fill="#808080" font-size="13" text-anchor="end">240</text>
<rect x="147" y="268" width="4" height="1" fill="#808080"/>
<text transform="translate(145.0,273.0) scale(0.82,1)" fill="#808080" font-size="13" text-anchor="end">210</text>
<rect x="147" y="306" width="4" height="1" fill="#808080"/>
<text transform="translate(145.0,311.0) scale(0.82,1)" fill="#808080" font-size="13" text-anchor="end">180 S</text>
<rect x="147" y="344" width="4" height="1" fill="#808080"/>
<text transform="translate(145.0,349.0) scale(0.82,1)" fill="#808080" font-size="13" text-anchor="end">150</text>
<rect x="147" y="383" width="4" height="1" fill="#808080"/>
<text transform="translate(145.0,388.0) scale(0.82,1)" fill="#808080" font-size="13" text-anchor="end">120</text>
<rect x="147" y="421" width="4" height="1" fill="#808080"/>
<text transform="translate(145.0,426.0) scale(0.82,1)" fill="#808080" font-size="13" text-anchor="end">90  O</text>
<rect x="147" y="459" width="4" height="1" fill="#808080"/>
<text transform="translate(145.0,464.0) scale(0.82,1)" fill="#808080" font-size="13" text-anchor="end">60</text>
<rect x="147" y="498" width="4" height="1" fill="#808080"/>
<text transform="translate(145.0,503.0) scale(0.82,1)" fill="#808080" font-size="13" text-anchor="end">30</text>
<rect x="147" y="536" width="8" height="1" fill="#808080"/>
<text transform="translate(145.0,541.0) scale(0.82,1)" fill="#808080" font-size="13" text-anchor="end">0   N</text>
<text transform="translate(139.0,65.0) scale(0.82,1)" fill="#808080" font-size="13" text-anchor="middle">°</text>
<rect x="183" y="76" width="4" height="1" fill="#808080"/>
<text transform="translate(181.0,81.0) scale(0.82,1)" fill="#ff00ff" font-size="13" text-anchor="end">10.0</text>
<rect x="183" y="122" width="4" height="1" fill="#808080"/>
<text transform="translate(181.0,127.0) scale(0.82,1)" fill="#ff00ff" font-size="13" text-anchor="end">9.0</text>
<rect x="183" y="168" width="4" height="1" fill="#808080"/>
<text transform="translate(181.0,173.0) scale(0.82,1)" fill="#ff00ff" font-size="13" text-anchor="end">8.0</text>
<rect x="183" y="214" width="4" height="1" fill="#808080"/>
<text transform="translate(181.0,219.0) scale(0.82,1)" fill="#ff00ff" font-size="13" text-anchor="end">7.0</text>
<rect x="183" y="260" width="4" height="1" fill="#808080"/>
<text transform="translate(181.0,265.0) scale(0.82,1)" fill="#ff00ff" font-size="13" text-anchor="end">6.0</text>
<rect x="183" y="306" width="4" height="1" fill="#808080"/>
<text transform="translate(181.0,311.0) scale(0.82,1)" fill="#ff00ff" font-size="13" text-anchor="end">5.0</text>
<rect x="183" y="352" width="4" height="1" fill="#808080"/>
<text transform="translate(181.0,357.0) scale(0.82,1)" fill="#ff00ff" font-size="13" text-anchor="end">4.0</text>
<rect x="183" y="398" width="4" height="1" fill="#808080"/>
<text transform="translate(181.0,403.0) scale(0.82,1)" fill="#ff00ff" font-size="13" text-anchor="end">3.0</text>
<rect x="183" y="444" width="4" height="1" fill="#808080"/>
<text transform="translate(181.0,449.0) scale(0.82,1)" fill="#ff00ff" font-size="13" text-anchor="end">2.0</text>
<rect x="183" y="490" width="4" height="1" fill="#808080"/>
<text transform="translate(181.0,495.0) scale(0.82,1)" fill="#ff00ff" font-size="13" text-anchor="end">1.0</text>
<rect x="183" y="536" width="4" height="1" fill="#808080"/>
<text transform="translate(181.0,541.0) scale(0.82,1)" fill="#ff00ff" font-size="13" text-anchor="end">0.0</text>
<text transform="translate(167.0,65.0) scale(0.82,1)" fill="#ff00ff" font-size="13" text-anchor="middle">UV-I</text>
<rect x="1059" y="76" width="4" height="1" fill="#808080"/>
<text transform="translate(1064.0,81.0) scale(0.82,1)" fill="#0000ff" font-size="13" text-anchor="start">100</text>
<rect x="1059" y="122" width="4" height="1" fill="#808080"/>
<text transform="translate(1064.0,127.0) scale(0.82,1)" fill="#0000ff" font-size="13" text-anchor="start">90</text>
<rect x="1059" y="168" width="4" height="1" fill="#808080"/>
<text transform="translate(1064.0,173.0) scale(0.82,1)" fill="#0000ff" font-size="13" text-anchor="start">80</text>
<rect x="1059" y="214" width="4" height="1" fill="#808080"/>
<text transform="translate(1064.0,219.0) scale(0.82,1)" fill="#0000ff" font-size="13" text-anchor="start">70</text>
<rect x="1059" y="260" width="4" height="1" fill="#808080"/>
<text transform="translate(1064.0,265.0) scale(0.82,1)" fill="#0000ff" font-size="13" text-anchor="start">60</text>
<rect x="1059" y="306" width="4" height="1" fill="#808080"/>
<text transform="translate(1064.0,311.0) scale(0.82,1)" fill="#0000ff" font-size="13" text-anchor="start">50</text>
<rect x="1059" y="352" width="4" height="1" fill="#808080"/>
<text transform="translate(1064.0,357.0) scale(0.82,1)" fill="#0000ff" font-size="13" text-anchor="start">40</text>
<rect x="1059" y="398" width="4" height="1" fill="#808080"/>
<text transform="translate(1064.0,403.0) scale(0.82,1)" fill="#0000ff" font-size="13" text-anchor="start">30</text>
<rect x="1059" y="444" width="4" height="1" fill="#808080"/>
<text transform="translate(1064.0,449.0) scale(0.82,1)" fill="#0000ff" font-size="13" text-anchor="start">20</text>
<rect x="1059" y="490" width="4" height="1" fill="#808080"/>
<text transform="translate(1064.0,495.0) scale(0.82,1)" fill="#0000ff" font-size="13" text-anchor="start">10</text>
<rect x="1059" y="536" width="4" height="1" fill="#808080"/>
<text transform="translate(1064.0,541.0) scale(0.82,1)" fill="#0000ff" font-size="13" text-anchor="start">0</text>
<text transform="translate(1062.0,65.0) scale(0.82,1)" fill="#0000ff" font-size="13" text-anchor="middle">%</text>
<rect x="1095" y="76" width="1" height="461" fill="#808080"/>
<rect x="1091" y="76" width="9" height="1" fill="#808080"/>
<text transform="translate(1101.0,81.0) scale(0.82,1)" fill="#00ff00" font-size="13" text-anchor="start">1030</text>
<rect x="1096" y="134" width="4" height="1" fill="#808080"/>
<text transform="translate(1101.0,139.0) scale(0.82,1)" fill="#00ff00" font-size="13" text-anchor="start">1025</text>
<rect x="1096" y="191" width="4" height="1" fill="#808080"/>
<text transform="translate(1101.0,196.0) scale(0.82,1)" fill="#00ff00" font-size="13" text-anchor="start">1020</text>
<rect x="1096" y="248" width="4" height="1" fill="#808080"/>
<text transform="translate(1101.0,253.0) scale(0.82,1)" fill="#00ff00" font-size="13" text-anchor="start">1015</text>
<rect x="1096" y="306" width="4" height="1" fill="#808080"/>
<text transform="translate(1101.0,311.0) scale(0.82,1)" fill="#00ff00" font-size="13" text-anchor="start">1010</text>
<rect x="1096" y="364" width="4" height="1" fill="#808080"/>
<text transform="translate(1101.0,369.0) scale(0.82,1)" fill="#00ff00" font-size="13" text-anchor="start">1005</text>
<rect x="1096" y="421" width="4" height="1" fill="#808080"/>
<text transform="translate(1101.0,426.0) scale(0.82,1)" fill="#00ff00" font-size="13" text-anchor="start">1000</text>
<rect x="1096" y="478" width="4" height="1" fill="#808080"/>
<text transform="translate(1101.0,483.0) scale(0.82,1)" fill="#00ff00" font-size="13" text-anchor="start">995</text>
<rect x="1091" y="536" width="9" height="1" fill="#808080"/>
<text transform="translate(1101.0,541.0) scale(0.82,1)" fill="#00ff00" font-size="13" text-anchor="start">990</text>
<text transform="translate(1104.0,65.0) scale(0.82,1)" fill="#00ff00" font-size="13" text-anchor="middle">hPa</text>
<rect x="1132" y="76" width="1" height="461" fill="#808080"/>
<rect x="1128" y="76" width="9" height="1" fill="#808080"/>
<text transform="translate(1138.0,81.0) scale(0.82,1)" fill="#000000" font-size="13" text-anchor="start">60.0</text>
<rect x="1133" y="114" width="4" height="1" fill="#808080"/>
<text transform="translate(1138.0,119.0) scale(0.82,1)" fill="#000000" font-size="13" text-anchor="start">55.0</text>
<rect x="1133" y="153" width="4" height="1" fill="#808080"/>
<text transform="translate(1138.0,158.0) scale(0.82,1)" fill="#000000" font-size="13" text-anchor="start">50.0</text>
<rect x="1133" y="191" width="4" height="1" fill="#808080"/>
<text transform="translate(1138.0,196.0) scale(0.82,1)" fill="#000000" font-size="13" text-anchor="start">45.0</text>
<rect x="1133" y="229" width="4" height="1" fill="#808080"/>
<text transform="translate(1138.0,234.0) scale(0.82,1)" fill="#000000" font-size="13" text-anchor="start">40.0</text>
<rect x="1133" y="268" width="4" height="1" fill="#808080"/>
<text transform="translate(1138.0,273.0) scale(0.82,1)" fill="#000000" font-size="13" text-anchor="start">35.0</text>
<rect x="1133" y="306" width="4" height="1" fill="#808080"/>
<text transform="translate(1138.0,311.0) scale(0.82,1)" fill="#000000" font-size="13" text-anchor="start">30.0</text>
<rect x="1133" y="344" width="4" height="1" fill="#808080"/>
<text transform="translate(1138.0,349.0) scale(0.82,1)" fill="#000000" font-size="13" text-anchor="start">25.0</text>
<rect x="1133" y="383" width="4" height="1" fill="#808080"/>
<text transform="translate(1138.0,388.0) scale(0.82,1)" fill="#000000" font-size="13" text-anchor="start">20.0</text>
<rect x="1133" y="421" width="4" height="1" fill="#808080"/>
<text transform="translate(1138.0,426.0) scale(0.82,1)" fill="#000000" font-size="13" text-anchor="start">15.0</text>
<rect x="1133" y="459" width="4" height="1" fill="#808080"/>
<text transform="translate(1138.0,464.0) scale(0.82,1)" fill="#000000" font-size="13" text-anchor="start">10.0</text>
<rect x="1133" y="498" width="4" height="1" fill="#808080"/>
<text transform="translate(1138.0,503.0) scale(0.82,1)" fill="#000000" font-size="13" text-anchor="start">5.0</text>
<rect x="1128" y="536" width="9" height="1" fill="#808080"/>
<text transform="translate(1138.0,541.0) scale(0.82,1)" fill="#000000" font-size="13" text-anchor="start">0.0</text>
<text transform="translate(1144.0,65.0) scale(0.82,1)" fill="#000000" font-size="13" text-anchor="middle">km/h</text>
<rect x="1169" y="76" width="1" height="461" fill="#808080"/>
<rect x="1165" y="76" width="9" height="1" fill="#808080"/>
<text transform="translate(1175.0,81.0) scale(0.82,1)" fill="#ffff00" font-size="13" text-anchor="start">100</text>
<rect x="1170" y="122" width="4" height="1" fill="#808080"/>
<text transform="translate(1175.0,127.0) scale(0.82,1)" fill="#ffff00" font-size="13" text-anchor="start">90</text>
<rect x="1170" y="168" width="4" height="1" fill="#808080"/>
<text transform="translate(1175.0,173.0) scale(0.82,1)" fill="#ffff00" font-size="13" text-anchor="start">80</text>
<rect x="1170" y="214" width="4" height="1" fill="#808080"/>
<text transform="translate(1175.0,219.0) scale(0.82,1)" fill="#ffff00" font-size="13" text-anchor="start">70</text>
<rect x="1170" y="260" width="4" height="1" fill="#808080"/>
<text transform="translate(1175.0,265.0) scale(0.82,1)" fill="#ffff00" font-size="13" text-anchor="start">60</text>
<rect x="1170" y="306" width="4" height="1" fill="#808080"/>
<text transform="translate(1175.0,311.0) scale(0.82,1)" fill="#ffff00" font-size="13" text-anchor="start">50</text>
<rect x="1170" y="352" width="4" height="1" fill="#808080"/>
<text transform="translate(1175.0,357.0) scale(0.82,1)" fill="#ffff00" font-size="13" text-anchor="start">40</text>
<rect x="1170" y="398" width="4" height="1" fill="#808080"/>
<text transform="translate(1175.0,403.0) scale(0.82,1)" fill="#ffff00" font-size="13" text-anchor="start">30</text>
<rect x="1170" y="444" width="4" height="1" fill="#808080"/>
<text transform="translate(1175.0,449.0) scale(0.82,1)" fill="#ffff00" font-size="13" text-anchor="start">20</text>
<rect x="1170" y="490" width="4" height="1" fill="#808080"/>
<text transform="translate(1175.0,495.0) scale(0.82,1)" fill="#ffff00" font-size="13" text-anchor="start">10</text>
<rect x="1165" y="536" width="9" height="1" fill="#808080"/>
<text transform="translate(1175.0,541.0) scale(0.82,1)" fill="#ffff00" font-size="13" text-anchor="start">0</text>
<text transform="translate(1177.0,65.0) scale(0.82,1)" fill="#ffff00" font-size="13" text-anchor="middle">min</text>
<rect x="1206" y="76" width="1" height="461" fill="#808080"/>
<rect x="1202" y="76" width="9" height="1" fill="#808080"/>
<text transform="translate(1212.0,81.0) scale(0.82,1)" fill="#ff8080" font-size="13" text-anchor="start">1200</text>
<rect x="1207" y="95" width="4" height="1" fill="#808080"/>
<text transform="translate(1212.0,100.0) scale(0.82,1)" fill="#ff8080" font-size="13" text-anchor="start">1150</text>
<rect x="1207" y="114" width="4" height="1" fill="#808080"/>
<text transform="translate(1212.0,119.0) scale(0.82,1)" fill="#ff8080" font-size="13" text-anchor="start">1100</text>
<rect x="1207" y="134" width="4" height="1" fill="#808080"/>
<text transform="translate(1212.0,139.0) scale(0.82,1)" fill="#ff8080" font-size="13" text-anchor="start">1050</text>
<rect x="1207" y="153" width="4" height="1" fill="#808080"/>
<text transform="translate(1212.0,158.0) scale(0.82,1)" fill="#ff8080" font-size="13" text-anchor="start">1000</text>
<rect x="1207" y="172" width="4" height="1" fill="#808080"/>
<text transform="translate(1212.0,177.0) scale(0.82,1)" fill="#ff8080" font-size="13" text-anchor="start">950</text>
<rect x="1207" y="191" width="4" height="1" fill="#808080"/>
<text transform="translate(1212.0,196.0) scale(0.82,1)" fill="#ff8080" font-size="13" text-anchor="start">900</text>
<rect x="1207" y="210" width="4" height="1" fill="#808080"/>
<text transform="translate(1212.0,215.0) scale(0.82,1)" fill="#ff8080" font-size="13" text-anchor="start">850</text>
<rect x="1207" y="229" width="4" height="1" fill="#808080"/>
<text transform="translate(1212.0,234.0) scale(0.82,1)" fill="#ff8080" font-size="13" text-anchor="start">800</text>
<rect x="1207" y="248" width="4" height="1" fill="#808080"/>
<text transform="translate(1212.0,253.0) scale(0.82,1)" fill="#ff8080" font-size="13" text-anchor="start">750</text>
<rect x="1207" y="268" width="4" height="1" fill="#808080"/>
<text transform="translate(1212.0,273.0) scale(0.82,1)" fill="#ff8080" font-size="13" text-anchor="start">700</text>
<rect x="1207" y="287" width="4" height="1" fill="#808080"/>
<text transform="translate(1212.0,292.0) scale(0.82,1)" fill="#ff8080" font-size="13" text-anchor="start">650</text>
<rect x="1207" y="306" width="4" height="1" fill="#808080"/>
<text transform="translate(1212.0,311.0) scale(0.82,1)" fill="#ff8080" font-size="13" text-anchor="start">600</text>
<rect x="1207" y="325" width="4" height="1" fill="#808080"/>
<text transform="translate(1212.0,330.0) scale(0.82,1)" fill="#ff8080" font-size="13" text-anchor="start">550</text>
<rect x="1207" y="344" width="4" height="1" fill="#808080"/>
<text transform="translate(1212.0,349.0) scale(0.82,1)" fill="#ff8080" font-size="13" text-anchor="start">500</text>
<rect x="1207" y="364" width="4" height="1" fill="#808080"/>
<text transform="translate(1212.0,369.0) scale(0.82,1)" fill="#ff8080" font-size="13" text-anchor="start">450</text>
<rect x="1207" y="383" width="4" height="1" fill="#808080"/>
<text transform="translate(1212.0,388.0) scale(0.82,1)" fill="#ff8080" font-size="13" text-anchor="start">400</text>
<rect x="1207" y="402" width="4" height="1" fill="#808080"/>
<text transform="translate(1212.0,407.0) scale(0.82,1)" fill="#ff8080" font-size="13" text-anchor="start">350</text>
<rect x="1207" y="421" width="4" height="1" fill="#808080"/>
<text transform="translate(1212.0,426.0) scale(0.82,1)" fill="#ff8080" font-size="13" text-anchor="start">300</text>
<rect x="1207" y="440" width="4" height="1" fill="#808080"/>
<text transform="translate(1212.0,445.0) scale(0.82,1)" fill="#ff8080" font-size="13" text-anchor="start">250</text>
<rect x="1207" y="459" width="4" height="1" fill="#808080"/>
<text transform="translate(1212.0,464.0) scale(0.82,1)" fill="#ff8080" font-size="13" text-anchor="start">200</text>
<rect x="1207" y="478" width="4" height="1" fill="#808080"/>
<text transform="translate(1212.0,483.0) scale(0.82,1)" fill="#ff8080" font-size="13" text-anchor="start">150</text>
<rect x="1207" y="498" width="4" height="1" fill="#808080"/>
<text transform="translate(1212.0,503.0) scale(0.82,1)" fill="#ff8080" font-size="13" text-anchor="start">100</text>
<rect x="1207" y="517" width="4" height="1" fill="#808080"/>
<text transform="translate(1212.0,522.0) scale(0.82,1)" fill="#ff8080" font-size="13" text-anchor="start">50</text>
<rect x="1202" y="536" width="9" height="1" fill="#808080"/>
<text transform="translate(1212.0,541.0) scale(0.82,1)" fill="#ff8080" font-size="13" text-anchor="start">0</text>
<text transform="translate(1219.0,65.0) scale(0.82,1)" fill="#ff8080" font-size="13" text-anchor="middle">W/m²</text>
<rect x="405" y="532" width="2" height="13" fill="#ffff00"/>
<rect x="916" y="532" width="2" height="13" fill="#ffff00"/>
<text transform="translate(399.0,566.0) scale(0.82,1)" fill="#000" font-size="13" text-anchor="end">06:00</text>
<g shape-rendering="auto"><g stroke="#ffff90" stroke-width="1.6" stroke-linecap="round"><path d="M406 556.2V567.8M400.2 562H411.8M402 558L410 566M410 558L402 566"/></g><circle cx="406" cy="562" r="3.1" fill="#ffff00"/></g>
<text transform="translate(910.0,566.0) scale(0.82,1)" fill="#000" font-size="13" text-anchor="end">20:06</text>
<rect x="914.5" y="559.5" width="5" height="5" rx="1.5" fill="none" stroke="#ffff30" shape-rendering="auto"/>
<rect x="1" y="573" width="1248" height="68" fill="#ccfaf7"/>
<rect x="1249" y="573" width="1" height="68" fill="#808080"/>
<rect x="87" y="573" width="1" height="68" fill="#ffffff"/>
<rect x="88" y="573" width="1" height="68" fill="#808080"/>
<rect x="204" y="573" width="1" height="68" fill="#ffffff"/>
<rect x="205" y="573" width="1" height="68" fill="#808080"/>
<rect x="322" y="573" width="1" height="68" fill="#ffffff"/>
<rect x="323" y="573" width="1" height="68" fill="#808080"/>
<rect x="440" y="573" width="1" height="68" fill="#ffffff"/>
<rect x="441" y="573" width="1" height="68" fill="#808080"/>
<rect x="558" y="573" width="1" height="68" fill="#ffffff"/>
<rect x="559" y="573" width="1" height="68" fill="#808080"/>
<rect x="676" y="573" width="1" height="68" fill="#ffffff"/>
<rect x="677" y="573" width="1" height="68" fill="#808080"/>
<rect x="794" y="573" width="1" height="68" fill="#ffffff"/>
<rect x="795" y="573" width="1" height="68" fill="#808080"/>
<rect x="912" y="573" width="1" height="68" fill="#ffffff"/>
<rect x="913" y="573" width="1" height="68" fill="#808080"/>
<text transform="translate(9.0,591.0) scale(1,1)" fill="#000" font-size="11.5" text-anchor="start" font-weight="bold">Sensor</text>
<text transform="translate(9.0,607.0) scale(1,1)" fill="#000" font-size="11.5" text-anchor="start" font-weight="bold">MinWert</text>
<text transform="translate(9.0,623.0) scale(1,1)" fill="#000" font-size="11.5" text-anchor="start" font-weight="bold">MaxWert</text>
<text transform="translate(9.0,639.0) scale(1,1)" fill="#000" font-size="11.5" text-anchor="start" font-weight="bold">Durchschnitt</text>
<text transform="translate(95.0,591.0) scale(1,1)" fill="#000" font-size="11.5" text-anchor="start" font-weight="bold">Temp. 2m</text>
<text transform="translate(198.5,591.0) scale(1,1)" fill="#000" font-size="11.5" text-anchor="end" font-weight="bold">°C</text>
<text transform="translate(101.0,607.0) scale(0.82,1)" fill="#000" font-size="13" text-anchor="start">06:30</text>
<text transform="translate(198.5,607.0) scale(0.82,1)" fill="#000" font-size="13" text-anchor="end">13.6</text>
<text transform="translate(101.0,623.0) scale(0.82,1)" fill="#000" font-size="13" text-anchor="start">14:15</text>
<text transform="translate(198.5,623.0) scale(0.82,1)" fill="#000" font-size="13" text-anchor="end">23.1</text>
<text transform="translate(198.5,639.0) scale(0.82,1)" fill="#000" font-size="13" text-anchor="end">17.82</text>
<text transform="translate(212.5,591.0) scale(1,1)" fill="#000" font-size="11.5" text-anchor="start" font-weight="bold">Feuchte 2m</text>
<text transform="translate(316.0,591.0) scale(1,1)" fill="#000" font-size="11.5" text-anchor="end" font-weight="bold">%</text>
<text transform="translate(218.5,607.0) scale(0.82,1)" fill="#000" font-size="13" text-anchor="start">14:10</text>
<text transform="translate(316.0,607.0) scale(0.82,1)" fill="#000" font-size="13" text-anchor="end">52</text>
<text transform="translate(218.5,623.0) scale(0.82,1)" fill="#000" font-size="13" text-anchor="start">06:45</text>
<text transform="translate(316.0,623.0) scale(0.82,1)" fill="#000" font-size="13" text-anchor="end">87</text>
<text transform="translate(316.0,639.0) scale(0.82,1)" fill="#000" font-size="13" text-anchor="end">72</text>
<text transform="translate(330.5,591.0) scale(1,1)" fill="#000" font-size="11.5" text-anchor="start" font-weight="bold">Luftdruck</text>
<text transform="translate(434.0,591.0) scale(1,1)" fill="#000" font-size="11.5" text-anchor="end" font-weight="bold">hPa</text>
<text transform="translate(336.5,607.0) scale(0.82,1)" fill="#000" font-size="13" text-anchor="start">19:30</text>
<text transform="translate(434.0,607.0) scale(0.82,1)" fill="#000" font-size="13" text-anchor="end">1012.3</text>
<text transform="translate(336.5,623.0) scale(0.82,1)" fill="#000" font-size="13" text-anchor="start">10:50</text>
<text transform="translate(434.0,623.0) scale(0.82,1)" fill="#000" font-size="13" text-anchor="end">1015.4</text>
<text transform="translate(330.5,639.0) scale(0.82,1)" fill="#000" font-size="13" text-anchor="start">^0.7hPa/h</text>
<text transform="translate(434.0,639.0) scale(0.82,1)" fill="#000" font-size="13" text-anchor="end">1014.1</text>
<text transform="translate(448.0,591.0) scale(1,1)" fill="#000" font-size="11.5" text-anchor="start" font-weight="bold">Wind</text>
<text transform="translate(552.0,591.0) scale(1,1)" fill="#000" font-size="11.5" text-anchor="end" font-weight="bold">km/h</text>
<text transform="translate(448.0,607.0) scale(0.82,1)" fill="#000" font-size="13" text-anchor="start">Ø 10 min.</text>
<text transform="translate(552.0,607.0) scale(0.82,1)" fill="#000" font-size="13" text-anchor="end">1.0</text>
<text transform="translate(454.0,623.0) scale(0.82,1)" fill="#000" font-size="13" text-anchor="start">13:05</text>
<text transform="translate(552.0,623.0) scale(0.82,1)" fill="#000" font-size="13" text-anchor="end">W 13.8</text>
<text transform="translate(454.0,639.0) scale(0.82,1)" fill="#000" font-size="13" text-anchor="start">337.5 km</text>
<text transform="translate(552.0,639.0) scale(0.82,1)" fill="#000" font-size="13" text-anchor="end">6.2</text>
<text transform="translate(566.5,591.0) scale(1,1)" fill="#000" font-size="11.5" text-anchor="start" font-weight="bold">Windböen</text>
<text transform="translate(670.0,591.0) scale(1,1)" fill="#000" font-size="11.5" text-anchor="end" font-weight="bold">km/h</text>
<text transform="translate(566.5,607.0) scale(0.82,1)" fill="#000" font-size="13" text-anchor="start">Ø 10 min.</text>
<text transform="translate(670.0,607.0) scale(0.82,1)" fill="#000" font-size="13" text-anchor="end">3.2</text>
<text transform="translate(572.5,623.0) scale(0.82,1)" fill="#000" font-size="13" text-anchor="start">13:25</text>
<text transform="translate(670.0,623.0) scale(0.82,1)" fill="#000" font-size="13" text-anchor="end">W 29.0</text>
<text transform="translate(572.5,639.0) scale(0.82,1)" fill="#000" font-size="13" text-anchor="start">337.5 km</text>
<text transform="translate(670.0,639.0) scale(0.82,1)" fill="#000" font-size="13" text-anchor="end">14.1</text>
<text transform="translate(684.5,591.0) scale(1,1)" fill="#000" font-size="11.5" text-anchor="start" font-weight="bold">Regen</text>
<text transform="translate(788.0,591.0) scale(1,1)" fill="#000" font-size="11.5" text-anchor="end" font-weight="bold">l/m²</text>
<text transform="translate(690.5,623.0) scale(0.82,1)" fill="#000" font-size="13" text-anchor="start">09:45</text>
<text transform="translate(788.0,623.0) scale(0.82,1)" fill="#000" font-size="13" text-anchor="end">0.2</text>
<text transform="translate(684.5,639.0) scale(0.82,1)" fill="#000" font-size="13" text-anchor="start">Gesamt:</text>
<text transform="translate(788.0,639.0) scale(0.82,1)" fill="#000" font-size="13" text-anchor="end">0.2</text>
<text transform="translate(802.0,591.0) scale(1,1)" fill="#000" font-size="11.5" text-anchor="start" font-weight="bold">UV</text>
<text transform="translate(905.5,591.0) scale(1,1)" fill="#000" font-size="11.5" text-anchor="end" font-weight="bold">UV-I</text>
<text transform="translate(808.0,607.0) scale(0.82,1)" fill="#000" font-size="13" text-anchor="start">23:55</text>
<text transform="translate(905.5,607.0) scale(0.82,1)" fill="#000" font-size="13" text-anchor="end">0.0</text>
<text transform="translate(808.0,623.0) scale(0.82,1)" fill="#000" font-size="13" text-anchor="start">13:00</text>
<text transform="translate(905.5,623.0) scale(0.82,1)" fill="#000" font-size="13" text-anchor="end">5.2</text>
<text transform="translate(905.5,639.0) scale(0.82,1)" fill="#000" font-size="13" text-anchor="end">2.2</text>
<text transform="translate(921.0,591.0) scale(1,1)" fill="#000" font-size="11.5" text-anchor="start" font-weight="bold">Solar</text>
<text transform="translate(1021.5,591.0) scale(1,1)" fill="#000" font-size="11.5" text-anchor="end" font-weight="bold">W/m²</text>
<text transform="translate(921.0,607.0) scale(0.82,1)" fill="#000" font-size="13" text-anchor="start">Elevation</text>
<text transform="translate(1021.5,607.0) scale(0.82,1)" fill="#000" font-size="13" text-anchor="end">-25.240</text>
<text transform="translate(927.0,623.0) scale(0.82,1)" fill="#000" font-size="13" text-anchor="start">13:25</text>
<text transform="translate(1021.5,623.0) scale(0.82,1)" fill="#000" font-size="13" text-anchor="end">988</text>
<text transform="translate(921.0,639.0) scale(0.82,1)" fill="#000" font-size="13" text-anchor="start">Tag:6:15 h</text>
<text transform="translate(1021.5,639.0) scale(0.82,1)" fill="#000" font-size="13" text-anchor="end">298</text>
</svg>
</body></html>
